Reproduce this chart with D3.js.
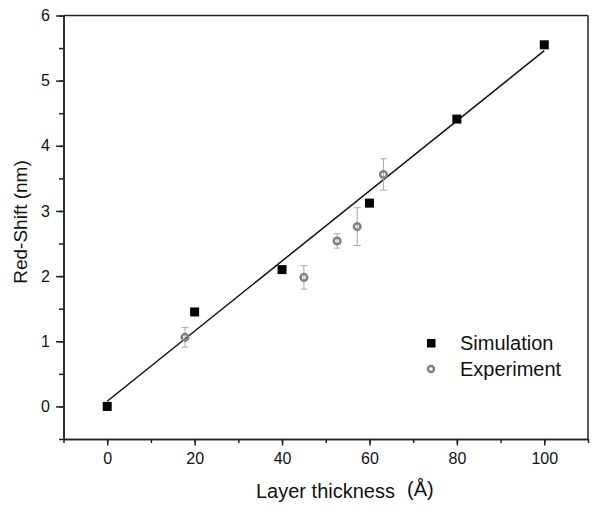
<!DOCTYPE html>
<html><head><meta charset="utf-8">
<script src="https://cdn.jsdelivr.net/npm/d3@7/dist/d3.min.js"></script>
<style>body{margin:0;background:#fff}svg{display:block}text{font-family:"Liberation Sans",Arial,sans-serif;fill:#111}</style>
</head><body><svg id="c" width="601" height="508"></svg>
<script>
const simX = [0, 20, 40, 60, 80, 100];
const simY = [0, 1.45, 2.1, 3.12, 4.41, 5.55];
const expX = [17.8, 45, 52.6, 57.2, 63.2];
const expY = [1.06, 1.98, 2.54, 2.76, 3.56];
const expErr = [0.15, 0.18, 0.11, 0.29, 0.24];
const fitX = [0, 100];
const fitY = [0.08, 5.46];
const xTicks = [0, 20, 40, 60, 80, 100];
const yTicks = [0, 1, 2, 3, 4, 5, 6];
const seriesNames = ["Simulation", "Experiment"];
const xTitle = "Layer thickness";
const xUnit = "(Å)";
const yTitle = "Red-Shift (nm)";

const svg = d3.select("#c");
const L = 63.5, R = 588, T = 15.5, B = 439;
const x = d3.scaleLinear().domain([-10, 110]).range([L, R]);
const y = d3.scaleLinear().domain([-0.5, 6]).range([B, T]);
const axCol = "#222";
const fnt = "Liberation Sans, Arial, sans-serif";

// frame top/right
svg.append("line").attr("x1", L).attr("x2", R).attr("y1", T).attr("y2", T).attr("stroke", axCol).attr("stroke-width", 1.5);
svg.append("line").attr("x1", R).attr("x2", R).attr("y1", T).attr("y2", B).attr("stroke", axCol).attr("stroke-width", 1.5);

// x axis
const xMinor = d3.range(-10, 111, 10);
const gx = svg.append("g").attr("transform", `translate(0,${B})`);
gx.call(d3.axisBottom(x).tickValues(xMinor).tickSize(4).tickFormat("").tickSizeOuter(0));
const gx2 = svg.append("g").attr("transform", `translate(0,${B})`);
gx2.call(d3.axisBottom(x).tickValues(xTicks).tickSize(6.5).tickPadding(7).tickFormat(d3.format("d")).tickSizeOuter(0));
[gx, gx2].forEach(g => { g.select(".domain").attr("stroke", axCol).attr("stroke-width", 1.5); g.selectAll(".tick line").attr("stroke", axCol).attr("stroke-width", 1.5); });
gx2.selectAll("text").attr("font-size", 16).attr("fill", "#111").style("font-family", fnt);

// y axis
const yMinor = d3.range(-0.5, 6.01, 0.5);
const gy = svg.append("g").attr("transform", `translate(${L},0)`);
gy.call(d3.axisLeft(y).tickValues(yMinor).tickSize(4.5).tickFormat("").tickSizeOuter(0));
const gy2 = svg.append("g").attr("transform", `translate(${L},0)`);
gy2.call(d3.axisLeft(y).tickValues(yTicks).tickSize(7.5).tickPadding(6).tickFormat(d3.format("d")).tickSizeOuter(0));
[gy, gy2].forEach(g => { g.select(".domain").attr("stroke", axCol).attr("stroke-width", 1.5); g.selectAll(".tick line").attr("stroke", axCol).attr("stroke-width", 1.5); });
gy2.selectAll("text").attr("font-size", 16).attr("fill", "#111").style("font-family", fnt);

// fit line
svg.append("path").datum(fitX.map((d, i) => [d, fitY[i]]))
  .attr("d", d3.line().x(d => x(d[0])).y(d => y(d[1])))
  .attr("stroke", "#111").attr("stroke-width", 1.5).attr("fill", "none");

// error bars
const eg = svg.append("g").attr("stroke", "#a8a8a8").attr("stroke-width", 1);
expX.forEach((d, i) => {
  const cx = x(d), y1 = y(expY[i] + expErr[i]), y2 = y(expY[i] - expErr[i]);
  eg.append("line").attr("x1", cx).attr("x2", cx).attr("y1", y1).attr("y2", y2);
  eg.append("line").attr("x1", cx - 3.5).attr("x2", cx + 3.5).attr("y1", y1).attr("y2", y1);
  eg.append("line").attr("x1", cx - 3.5).attr("x2", cx + 3.5).attr("y1", y2).attr("y2", y2);
});

// simulation squares
svg.append("g").selectAll("rect").data(simX).join("rect")
  .attr("x", d => x(d) - 4.5).attr("y", (d, i) => y(simY[i]) - 4.5)
  .attr("width", 9).attr("height", 9).attr("fill", "#000");

// experiment circles
svg.append("g").selectAll("circle").data(expX).join("circle")
  .attr("cx", d => x(d)).attr("cy", (d, i) => y(expY[i])).attr("r", 3.3)
  .attr("fill", "none").attr("stroke", "#808080").attr("stroke-width", 2.5);

// legend
svg.append("rect").attr("x", 427).attr("y", 339).attr("width", 8.5).attr("height", 8.5).attr("fill", "#000");
svg.append("circle").attr("cx", 431).attr("cy", 369).attr("r", 3).attr("fill", "none").attr("stroke", "#808080").attr("stroke-width", 2.4);
svg.append("text").attr("x", 460).attr("y", 350).attr("font-size", 20).text(seriesNames[0]);
svg.append("text").attr("x", 460).attr("y", 376).attr("font-size", 20).text(seriesNames[1]);

// axis titles
svg.append("text").attr("x", 256).attr("y", 498).attr("font-size", 20).text(xTitle);
svg.append("text").attr("x", 407).attr("y", 496).attr("font-size", 20).text(xUnit);
svg.append("text").attr("transform", "translate(27,222) rotate(-90)").attr("text-anchor", "middle").attr("font-size", 19).text(yTitle);
</script></body></html>
